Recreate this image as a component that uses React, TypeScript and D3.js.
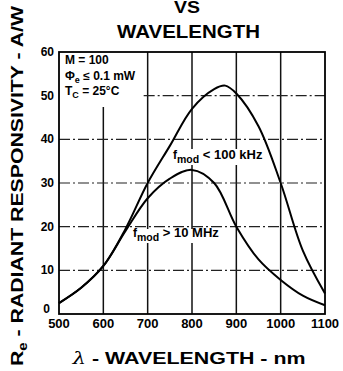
import React from 'react';
import * as d3 from 'd3';

// wavelength (nm) vs radiant responsivity (A/W)
const lowFreq: [number, number][] = [
  [500, 2.5], [550, 6], [600, 11], [650, 19.5], [700, 30], [750, 38.5], [800, 47],
  [850, 51.5], [875, 52.3], [900, 50.5], [950, 43], [1000, 30], [1050, 14.5], [1100, 4.7],
];
const highFreq: [number, number][] = [
  [500, 2.5], [550, 6], [600, 11], [650, 19], [700, 26.5], [750, 31], [800, 33],
  [850, 30], [900, 20], [950, 12.5], [1000, 7.8], [1050, 4.2], [1100, 2],
];
const xTicks = [500, 600, 700, 800, 900, 1000, 1100];
const yTicks = [0, 10, 20, 30, 40, 50, 60];
const vGrid = [600, 700, 800, 900, 1000];
const hGrid = [10, 20, 30, 40, 50];

const font = 'Liberation Sans, Arial, Helvetica, sans-serif';

export default function App() {
  const x = d3.scaleLinear().domain([500, 1100]).range([59, 325]);
  const y = d3.scaleLinear().domain([0, 60]).range([314, 52]);
  const line = d3
    .line<[number, number]>()
    .x((d) => x(d[0]))
    .y((d) => y(d[1]))
    .curve(d3.curveCatmullRom.alpha(0.5));

  return (
    <svg
      width={343}
      height={371}
      style={{ position: 'absolute', left: 0, top: 0, background: '#fff' }}
      fontFamily={font}
      fontWeight="bold"
    >
      {/* title */}
      <text x={187} y={13} textAnchor="middle" fontSize={16} textLength={26} lengthAdjust="spacingAndGlyphs">VS</text>
      <text x={188.5} y={38} textAnchor="middle" fontSize={18} textLength={143} lengthAdjust="spacingAndGlyphs">
        WAVELENGTH
      </text>

      {/* grid */}
      {vGrid.map((v) => (
        <line
          key={'v' + v}
          x1={x(v)}
          x2={x(v)}
          y1={v === 600 ? 107 : y(60)}
          y2={y(0)}
          stroke="#111"
          strokeWidth={1.5}
        />
      ))}
      {hGrid.map((v) => (
        <line
          key={'h' + v}
          x1={v === 50 ? x(700) - 4 : x(500)}
          x2={x(1100)}
          y1={y(v)}
          y2={y(v)}
          stroke="#222"
          strokeWidth={1.2}
          strokeDasharray="11,3,2,3"
        />
      ))}

      {/* curves */}
      <path d={line(lowFreq) || ''} fill="none" stroke="#000" strokeWidth={2} />
      <path d={line(highFreq) || ''} fill="none" stroke="#000" strokeWidth={2} />

      {/* frame */}
      <rect x={x(500)} y={y(60)} width={x(1100) - x(500)} height={y(0) - y(60)} fill="none" stroke="#000" strokeWidth={1.8} />

      {/* curve labels */}
      <rect x={171} y={149} width={96} height={16} fill="#fff" />
      <text x={173} y={159} fontSize={12}>
        f<tspan fontSize={10.5} dy={4}>mod</tspan>
        <tspan dy={-4} fontSize={13}> &lt; 100 kHz</tspan>
      </text>
      <rect x={131} y={229} width={93} height={14} fill="#fff" />
      <text x={133} y={237} fontSize={12}>
        f<tspan fontSize={10.5} dy={4}>mod</tspan>
        <tspan dy={-4} fontSize={13}> &gt; 10 MHz</tspan>
      </text>

      {/* conditions */}
      <text x={65} y={64} fontSize={12}>M = 100</text>
      <text x={65} y={80} fontSize={12}>
        Φ<tspan fontSize={9} dy={3}>e</tspan>
        <tspan dy={-3}> ≤ 0.1 mW</tspan>
      </text>
      <text x={65} y={95} fontSize={12}>
        T<tspan fontSize={9} dy={3}>C</tspan>
        <tspan dy={-3}> = 25°C</tspan>
      </text>

      {/* y tick labels */}
      {yTicks.map((t) => (
        <text key={'yt' + t} x={t === 0 ? 50 : 54} y={t === 0 ? 313 : y(t) + 4} textAnchor="end" fontSize={12}>
          {t}
        </text>
      ))}
      {/* x tick labels */}
      {xTicks.map((t) => (
        <text key={'xt' + t} x={x(t)} y={328} textAnchor="middle" fontSize={13}>
          {t}
        </text>
      ))}

      {/* axis titles */}
      <text x={189} y={364} textAnchor="middle" fontSize={17} textLength={233} lengthAdjust="spacingAndGlyphs">
        <tspan fontStyle="italic" fontWeight="normal" fontFamily="DejaVu Serif, serif">λ</tspan> - WAVELENGTH - nm
      </text>
      <text
        transform="translate(23,186) rotate(-90)"
        textAnchor="middle"
        fontSize={17}
        textLength={360}
        lengthAdjust="spacingAndGlyphs"
      >
        R<tspan fontSize={12} dy={4}>e</tspan>
        <tspan dy={-4}> - RADIANT RESPONSIVITY - A/W</tspan>
      </text>
    </svg>
  );
}
